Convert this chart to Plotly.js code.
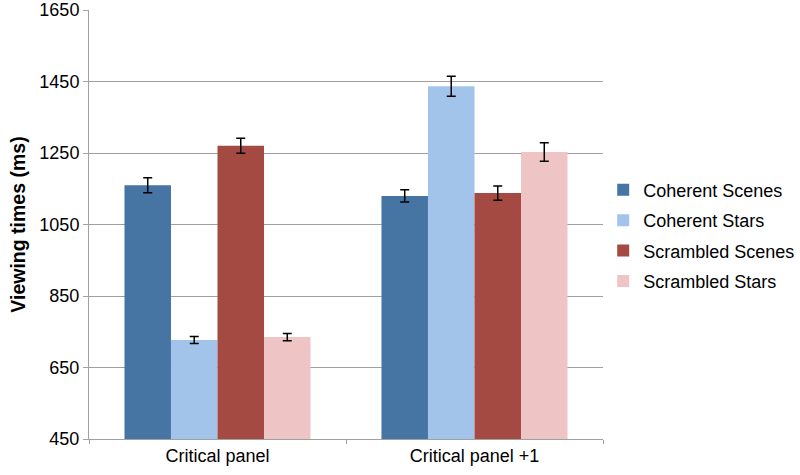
<!DOCTYPE html>
<html>
<head>
<meta charset="utf-8">
<script src="https://cdn.plot.ly/plotly-3.0.1.min.js"></script>
<style>html,body{margin:0;padding:0;background:#fff;}#chart{width:800px;height:475px;}</style>
</head>
<body>
<div id="chart"></div>
<script>
const categories = ["Critical panel", "Critical panel +1"];
const seriesNames = ["Coherent Scenes", "Coherent Stars", "Scrambled Scenes", "Scrambled Stars"];
const coherentScenes = [1160, 1130];
const coherentStars = [727, 1437];
const scrambledScenes = [1270, 1138];
const scrambledStars = [735, 1253];
const errCoherentScenes = [21, 17];
const errCoherentStars = [10, 28];
const errScrambledScenes = [21, 20];
const errScrambledStars = [10, 26];
const yTicks = [450, 650, 850, 1050, 1250, 1450, 1650];

const colors = ["#4674A3", "#A3C4EA", "#A54A42", "#EEC5C4"];
const values = [coherentScenes, coherentStars, scrambledScenes, scrambledStars];
const errs = [errCoherentScenes, errCoherentStars, errScrambledScenes, errScrambledStars];

const font = "'Liberation Sans', Arial, Helvetica, sans-serif";
const traces = seriesNames.map((name, i) => ({
  type: "bar",
  name: name,
  x: categories,
  y: values[i],
  legendgroup: "g" + i,
  marker: {color: colors[i], line: {width: 0}},
  error_y: {type: "data", array: errs[i], visible: true, color: "#000", thickness: 1.5, width: 4.5}
}));

const layout = {
  width: 800, height: 475,
  margin: {l: 89, r: 197, t: 10, b: 36},
  barmode: "group",
  bargap: 0.276,
  bargroupgap: 0,
  paper_bgcolor: "#fff",
  plot_bgcolor: "#fff",
  font: {family: font, size: 18, color: "#000"},
  xaxis: {
    showline: true, linecolor: "#A0A0A0", linewidth: 1,
    ticks: "outside", tickson: "boundaries", ticklen: 4, tickcolor: "#A0A0A0",
    showgrid: false,
    tickfont: {family: font, size: 18, color: "#000"}
  },
  yaxis: {
    range: [450, 1650],
    tickvals: yTicks,
    ticktext: yTicks.map(String),
    showline: true, linecolor: "#A0A0A0", linewidth: 1,
    ticks: "outside", ticklen: 5, tickcolor: "#A0A0A0",
    showgrid: true, gridcolor: "#A0A0A0", gridwidth: 1,
    zeroline: false,
    tickfont: {family: font, size: 18, color: "#000"},
    title: {text: "<b>Viewing times (ms)</b>", font: {family: font, size: 19.5, color: "#000"}, standoff: 8}
  },
  legend: {
    xref: "container", yref: "container",
    x: 0.754, xanchor: "left", y: 0.504, yanchor: "middle",
    traceorder: "grouped", tracegroupgap: 4,
    font: {family: font, size: 18, color: "#000"},
    bgcolor: "rgba(0,0,0,0)"
  },
  showlegend: true
};

Plotly.newPlot("chart", traces, layout, {displayModeBar: false, staticPlot: true});
</script>
</body>
</html>
